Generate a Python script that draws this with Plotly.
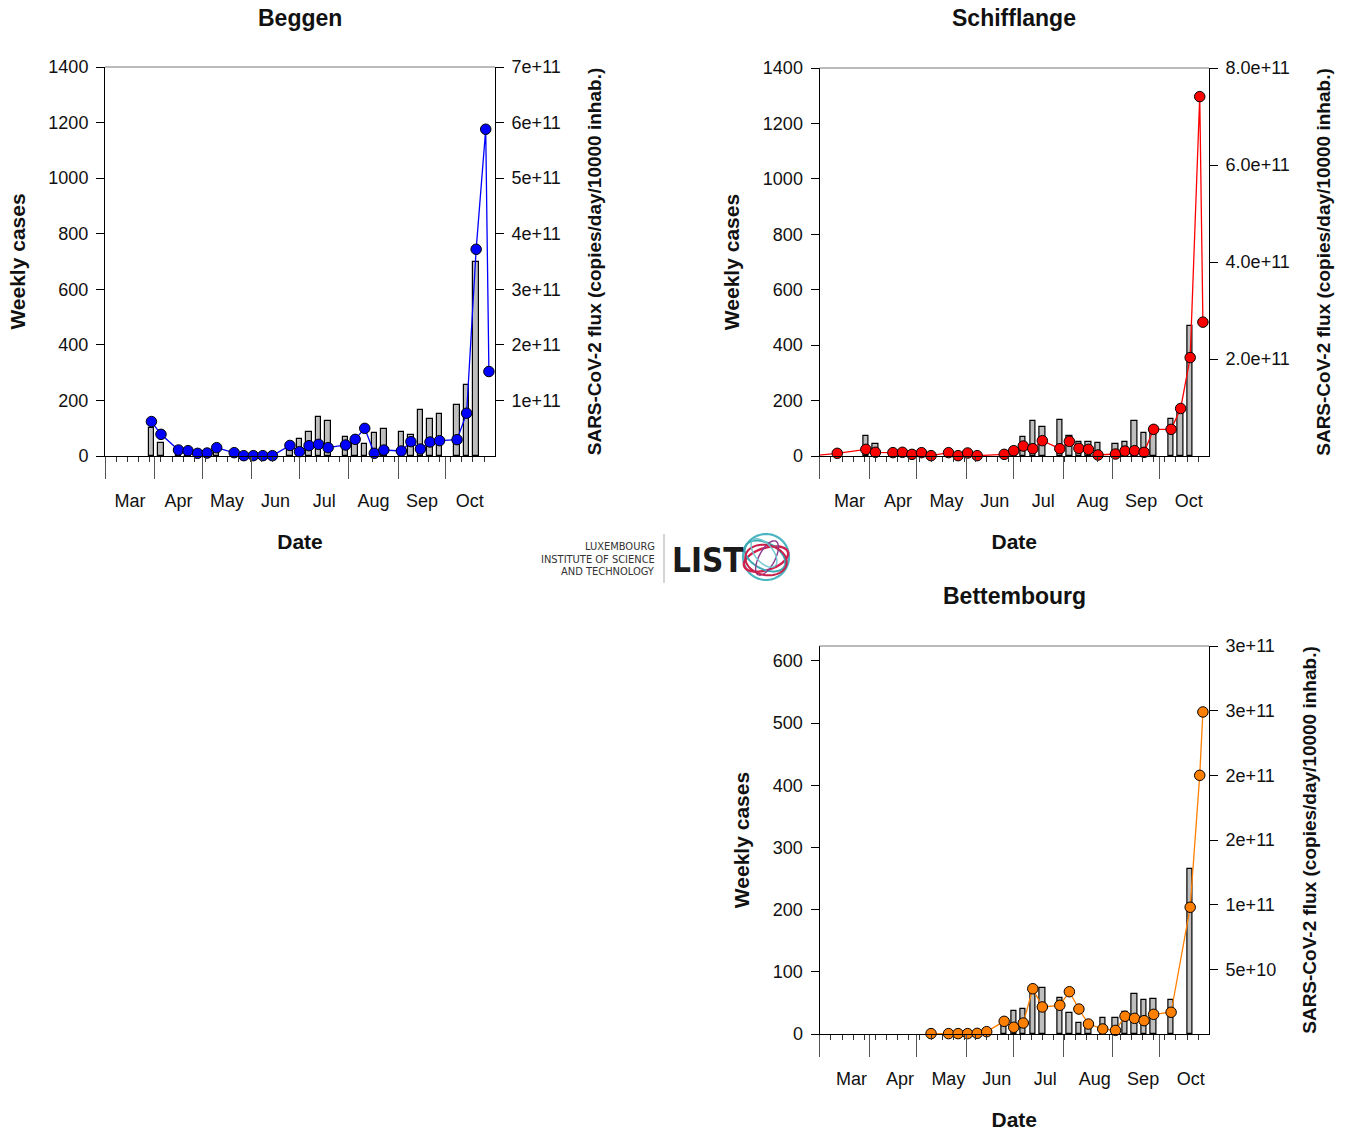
import numpy as np
import plotly.graph_objects as go

W, H = 1349, 1133
FONT = "Liberation Sans, Arial, Helvetica, sans-serif"
NARROW = "Liberation Sans Narrow, DejaVu Sans Condensed, Arial Narrow, sans-serif"

# ---------------- data ----------------
beggen_dates = ["2020-03-30", "2020-04-05", "2020-04-16", "2020-04-22", "2020-04-28", "2020-05-04", "2020-05-10",
                "2020-05-21", "2020-05-27", "2020-06-02", "2020-06-08", "2020-06-14",
                "2020-06-25", "2020-07-01", "2020-07-07", "2020-07-13", "2020-07-19",
                "2020-07-30", "2020-08-05", "2020-08-11", "2020-08-17", "2020-08-23",
                "2020-09-03", "2020-09-09", "2020-09-15", "2020-09-21", "2020-09-27",
                "2020-10-08", "2020-10-14", "2020-10-20", "2020-10-26", "2020-10-28"]
beggen_cases = [100, 47, 15, 15, 10, 10, 25,
                10, 5, 3, 3, 3,
                40, 60, 85, 139, 125,
                67, 55, 45, 82, 96,
                85, 74, 164, 133, 150,
                185, 255, 700, None, None]
beggen_flux = [0.62e11, 0.39e11, 0.108e11, 0.096e11, 0.048e11, 0.054e11, 0.15e11,
               0.06e11, 0.006e11, 0.006e11, 0.006e11, 0.006e11,
               0.19e11, 0.078e11, 0.186e11, 0.21e11, 0.15e11,
               0.198e11, 0.30e11, 0.498e11, 0.048e11, 0.108e11,
               0.09e11, 0.258e11, 0.126e11, 0.252e11, 0.276e11,
               0.294e11, 0.77e11, 3.72e11, 5.88e11, 1.52e11]

schif_dates = ["2020-02-24", "2020-03-12", "2020-03-30", "2020-04-05", "2020-04-16", "2020-04-22", "2020-04-28",
               "2020-05-04", "2020-05-10", "2020-05-21", "2020-05-27", "2020-06-02", "2020-06-08",
               "2020-06-25", "2020-07-01", "2020-07-07", "2020-07-13", "2020-07-19",
               "2020-07-30", "2020-08-05", "2020-08-11", "2020-08-17", "2020-08-23",
               "2020-09-03", "2020-09-09", "2020-09-15", "2020-09-21", "2020-09-27",
               "2020-10-08", "2020-10-14", "2020-10-20", "2020-10-26", "2020-10-28"]
schif_cases = [None, 2, 72, 42, 15, 12, 10,
               10, 8, 6, 5, 4, 3,
               10, 25, 70, 125, 106,
               130, 72, 50, 50, 46,
               42, 50, 127, 84, 105,
               134, 160, 468, None, None]
schif_flux = [0.0, 0.055e11, 0.137e11, 0.076e11, 0.069e11, 0.076e11, 0.034e11,
              0.069e11, 0.007e11, 0.069e11, 0.007e11, 0.062e11, 0.007e11,
              0.034e11, 0.11e11, 0.206e11, 0.151e11, 0.316e11,
              0.151e11, 0.302e11, 0.158e11, 0.137e11, 0.021e11,
              0.041e11, 0.103e11, 0.11e11, 0.076e11, 0.55e11,
              0.55e11, 0.98e11, 2.03e11, 7.41e11, 2.76e11]

bett_dates = ["2020-05-10", "2020-05-21", "2020-05-27", "2020-06-02", "2020-06-08", "2020-06-14",
              "2020-06-25", "2020-07-01", "2020-07-07", "2020-07-13", "2020-07-19",
              "2020-07-30", "2020-08-05", "2020-08-11", "2020-08-17", "2020-08-26",
              "2020-09-03", "2020-09-09", "2020-09-15", "2020-09-21", "2020-09-27",
              "2020-10-08", "2020-10-20", "2020-10-26", "2020-10-28"]
bett_cases = [1, 1, 1, 1, 2, 5,
              20, 37, 40, 70, 74,
              58, 34, 17, 12, 25,
              25, 35, 65, 54, 56,
              54, 265, None, None]
bett_flux = [0.003e11, 0.003e11, 0.003e11, 0.003e11, 0.005e11, 0.018e11,
             0.098e11, 0.052e11, 0.085e11, 0.35e11, 0.209e11,
             0.222e11, 0.327e11, 0.193e11, 0.077e11, 0.039e11,
             0.028e11, 0.137e11, 0.121e11, 0.103e11, 0.152e11,
             0.168e11, 0.98e11, 2.0e11, 2.49e11]

beggen_right_ticks = [1e11, 2e11, 3e11, 4e11, 5e11, 6e11, 7e11]
beggen_right_text = ["1e+11", "2e+11", "3e+11", "4e+11", "5e+11", "6e+11", "7e+11"]
schif_right_ticks = [2e11, 4e11, 6e11, 8e11]
schif_right_text = ["2.0e+11", "4.0e+11", "6.0e+11", "8.0e+11"]
bett_right_ticks = [0.5e11, 1e11, 1.5e11, 2e11, 2.5e11, 3e11]
bett_right_text = ["5e+10", "1e+11", "2e+11", "2e+11", "3e+11", "3e+11"]

# ---------------- styling ----------------
DAY_MS = 86400000
BAR_W = 3.4 * DAY_MS
X_RANGE = ["2020-02-29 20:00", "2020-10-31 20:00"]

panels = [
    dict(title="Beggen", box=(105, 67, 495, 456), xid="x", yl="y", yr="y2",
         dates=beggen_dates, cases=beggen_cases, flux=beggen_flux, color="#0000FF",
         lrange=[0, 1400], ldtick=200, rrange=[0, 7e11], rt=beggen_right_ticks, rtt=beggen_right_text,
         ty=18, lshift=0),
    dict(title="Schifflange", box=(819.5, 68, 1209, 456), xid="x2", yl="y3", yr="y4",
         dates=schif_dates, cases=schif_cases, flux=schif_flux, color="#FF0000",
         lrange=[0, 1400], ldtick=200, rrange=[0, 8e11], rt=schif_right_ticks, rtt=schif_right_text,
         ty=18, lshift=5),
    dict(title="Bettembourg", box=(819.5, 646, 1209, 1034), xid="x3", yl="y5", yr="y6",
         dates=bett_dates, cases=bett_cases, flux=bett_flux, color="#FF7F00",
         lrange=[0, 624], ldtick=100, rrange=[0, 3e11], rt=bett_right_ticks, rtt=bett_right_text,
         ty=596, lshift=7),
]

fig = go.Figure()
layout = dict(width=W, height=H, margin=dict(l=0, r=0, t=0, b=0, autoexpand=False),
              paper_bgcolor="white", plot_bgcolor="white", showlegend=False,
              font=dict(family=FONT, color="#111"), bargap=0)
shapes = []
annotations = []


def axname(aid):
    return "xaxis" + aid[1:] if aid.startswith("x") else "yaxis" + aid[1:]


for p in panels:
    x0, y0, x1, y1 = p["box"]
    fig.add_trace(go.Bar(x=p["dates"], y=p["cases"], xaxis=p["xid"], yaxis=p["yl"], width=BAR_W,
                         marker=dict(color="#BEBEBE", line=dict(color="black", width=1.2)),
                         hoverinfo="skip"))
    fig.add_trace(go.Scatter(x=p["dates"], y=p["flux"], xaxis=p["xid"], yaxis=p["yr"],
                             mode="lines+markers", cliponaxis=False,
                             line=dict(color=p["color"], width=1.3),
                             marker=dict(size=10.5, color=p["color"], line=dict(color="black", width=1)),
                             hoverinfo="skip"))
    layout[axname(p["xid"])] = dict(
        type="date", domain=[x0 / W, x1 / W], anchor=p["yl"], range=X_RANGE, automargin=False,
        showline=True, linecolor="black", linewidth=1,
        ticks="outside", ticklen=22, tickwidth=1, tickcolor="#555",
        tick0="2020-03-01", dtick="M1", tickformat="%b", ticklabelmode="period",
        ticklabelstandoff=6, ticklabelshift=p["lshift"],
        tickfont=dict(size=18, family=FONT, color="#111"),
        minor=dict(ticks="outside", ticklen=5, tickwidth=1, tickcolor="#333",
                   dtick=7 * DAY_MS, tick0="2020-03-01", showgrid=False),
        showgrid=False, zeroline=False, fixedrange=True,
        title=dict(text="<b>Date</b>", font=dict(size=21, family=FONT, color="#111"), standoff=24))
    layout[axname(p["yl"])] = dict(
        domain=[1 - y1 / H, 1 - y0 / H], anchor=p["xid"], range=p["lrange"], dtick=p["ldtick"], tick0=0,
        automargin=False,
        showline=True, linecolor="black", linewidth=1,
        ticks="outside", ticklen=8, tickwidth=1, tickcolor="black", ticklabelstandoff=4,
        tickfont=dict(size=18, family=FONT, color="#111"),
        showgrid=False, zeroline=False, fixedrange=True,
        title=dict(text="<b>Weekly cases</b>", font=dict(size=21, family=FONT, color="#111"), standoff=17))
    layout[axname(p["yr"])] = dict(
        overlaying=p["yl"], side="right", anchor=p["xid"], range=p["rrange"], automargin=False,
        tickmode="array", tickvals=p["rt"], ticktext=p["rtt"],
        showline=True, linecolor="black", linewidth=1,
        ticks="outside", ticklen=8, tickwidth=1, tickcolor="black", ticklabelstandoff=4,
        tickfont=dict(size=18, family=FONT, color="#111"),
        showgrid=False, zeroline=False, fixedrange=True,
        title=dict(text="<b>SARS-CoV-2 flux (copies/day/10000 inhab.)</b>",
                   font=dict(size=19, family=FONT, color="#111"), standoff=27))
    # top border
    shapes.append(dict(type="line", xref="paper", yref="paper", x0=x0 / W, x1=x1 / W,
                       y0=1 - y0 / H, y1=1 - y0 / H, line=dict(color="#777", width=1)))
    annotations.append(dict(text="<b>%s</b>" % p["title"], xref="paper", yref="paper",
                            x=(x0 + x1) / 2 / W, y=1 - p["ty"] / H, xanchor="center", yanchor="middle",
                            showarrow=False, font=dict(size=23, family=FONT, color="#111")))

# ---------------- logo ----------------
for txt, yy in [("LUXEMBOURG", 547), ("INSTITUTE OF SCIENCE", 559), ("AND TECHNOLOGY", 571)]:
    annotations.append(dict(text=txt, xref="paper", yref="paper", x=657 / W, y=1 - yy / H,
                            xanchor="right", yanchor="middle", showarrow=False,
                            font=dict(size=11, family=NARROW, color="#333")))
annotations.append(dict(text="<b>LIST</b>", xref="paper", yref="paper", x=670 / W, y=1 - 560 / H,
                        xanchor="left", yanchor="middle", showarrow=False,
                        font=dict(size=33, family=NARROW, color="#1a1a1a")))
shapes.append(dict(type="line", xref="paper", yref="paper", x0=664 / W, x1=664 / W,
                   y0=1 - 534 / H, y1=1 - 583 / H, line=dict(color="#aaa", width=1)))


def ellipse_path(cx, cy, rx, ry, rot_deg, n=72):
    t = np.linspace(0, 2 * np.pi, n)
    r = np.deg2rad(rot_deg)
    xs = cx + rx * np.cos(t) * np.cos(r) - ry * np.sin(t) * np.sin(r)
    ys = cy + rx * np.cos(t) * np.sin(r) + ry * np.sin(t) * np.cos(r)
    pts = ["%.5f,%.5f" % (x / W, 1 - y / H) for x, y in zip(xs, ys)]
    return "M " + " L ".join(pts) + " Z"


rings = [
    (766, 557, 23, 23, 0, "#4BB5C1", 2.2),
    (766, 559, 23, 11, -18, "#D2204F", 2.4),
    (765, 556, 22, 13, 28, "#3BA7B3", 2.0),
    (767, 558, 19, 8, -62, "#8A3B8F", 1.4),
    (766, 560, 21, 15, 12, "#C81E4A", 2.0),
    (764, 553, 17, 9, 50, "#6FC6CF", 1.4),
]
for cx, cy, rx, ry, rot, col, lw in rings:
    shapes.append(dict(type="path", xref="paper", yref="paper", path=ellipse_path(cx, cy, rx, ry, rot),
                       line=dict(color=col, width=lw)))

layout["shapes"] = shapes
layout["annotations"] = annotations
fig.update_layout(**layout)

fig.write_html("out.html", config={"displayModeBar": False},
               post_script="document.body.style.margin='0';document.body.style.overflow='hidden';")
